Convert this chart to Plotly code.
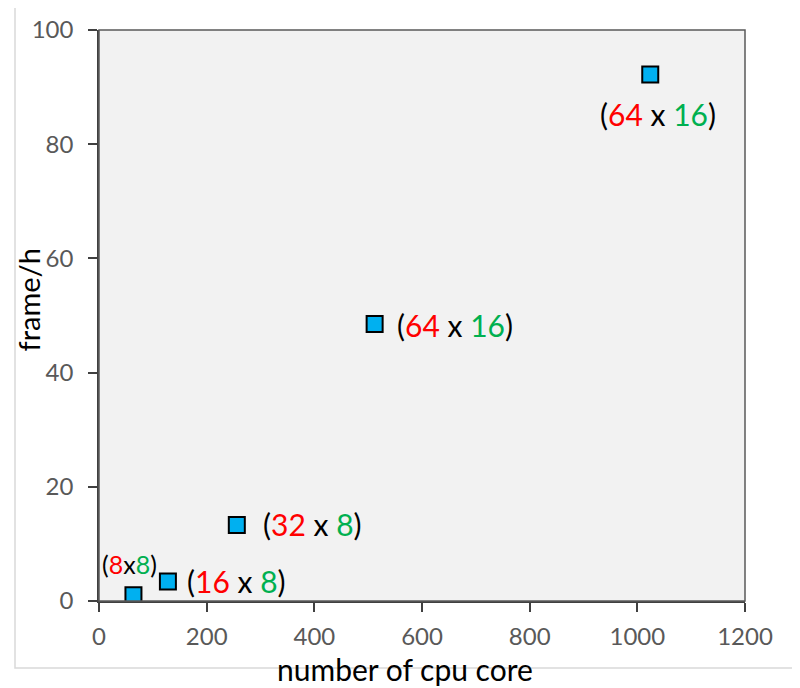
import plotly.graph_objects as go

cores = [64, 128, 256, 512, 1024]
frames = [1.0, 3.4, 13.3, 48.5, 92.2]
nodes = ["8", "16", "32", "64", "64"]
threads = ["8", "8", "8", "16", "16"]
x_ticks = [0, 200, 400, 600, 800, 1000, 1200]
y_ticks = [0, 20, 40, 60, 80, 100]

RED = "#ff0000"
GREEN = "#00b050"
FONT = "Lato"

OFF = 8  # page body margin of the html
W, H = 800 - OFF, 688 - OFF
L, R, T, B = 99, 745, 30, 601  # plot area in page pixels
PW, PH = R - L, B - T

fig = go.Figure()
fig.add_trace(go.Scatter(
    x=cores, y=frames, mode="markers",
    marker=dict(symbol="square", size=16, color="#00b0f0",
                line=dict(color="#000000", width=2)),
    showlegend=False, hoverinfo="skip"))

def lbl(n, t, sep=" x "):
    return (f'(<span style="color:{RED}">{n}</span>{sep}'
            f'<span style="color:{GREEN}">{t}</span>)')

offsets = [
    dict(xanchor="center", xshift=-4, yshift=31, size=25, sep="x"),
    dict(xanchor="left", xshift=17, yshift=1, size=30, sep=" x "),
    dict(xanchor="left", xshift=24, yshift=1, size=30, sep=" x "),
    dict(xanchor="left", xshift=20, yshift=-1, size=30, sep=" x "),
    dict(xanchor="center", xshift=8, yshift=-39, size=30, sep=" x "),
]
for xv, yv, n, t, o in zip(cores, frames, nodes, threads, offsets):
    fig.add_annotation(x=xv, y=yv, xref="x", yref="y",
                       text=lbl(n, t, o["sep"]), showarrow=False,
                       xanchor=o["xanchor"], yanchor="middle",
                       xshift=o["xshift"], yshift=o["yshift"],
                       font=dict(family=FONT, size=o["size"], color="#000000"))

def px(xp):
    return (xp - L) / PW

def py(yp):
    return (B - yp) / PH

# axis titles
fig.add_annotation(x=px(405), y=py(669), xref="paper", yref="paper",
                   text="number of cpu core", showarrow=False,
                   xanchor="center", yanchor="middle",
                   font=dict(family=FONT, size=30, color="#000000"))
fig.add_annotation(x=px(OFF), y=py(300), xref="paper", yref="paper",
                   text="frame/h", showarrow=False, textangle=-90,
                   xanchor="left", yanchor="middle",
                   font=dict(family=FONT, size=29, color="#000000"))

# plot-area frame
fig.add_shape(type="rect", xref="paper", yref="paper", x0=0, y0=0, x1=1, y1=1,
              line=dict(color="#595959", width=1.5), layer="above")
# outer image border
fig.add_shape(type="rect", xref="paper", yref="paper",
              x0=px(15), x1=px(797), y0=py(668), y1=py(-5),
              line=dict(color="#d9d9d9", width=1.5), layer="below")

axis_common = dict(
    showgrid=False, zeroline=False, showline=True, linecolor="#404040",
    linewidth=1.5, ticks="outside", ticklen=9, tickwidth=1.5,
    tickcolor="#404040", tickfont=dict(family=FONT, size=24, color="#595959"),
    automargin=False,
)
fig.update_xaxes(range=[0, 1200], tickvals=x_ticks, ticklabelstandoff=4,
                 **axis_common)
fig.update_yaxes(range=[0, 100], tickvals=y_ticks, ticklabelstandoff=10,
                 **axis_common)

fig.update_layout(
    width=W, height=H,
    margin=dict(l=L - OFF, r=800 - R, t=T - OFF, b=688 - B),
    paper_bgcolor="#ffffff", plot_bgcolor="#f2f2f2",
    font=dict(family=FONT),
)
fig.write_html("out.html")
